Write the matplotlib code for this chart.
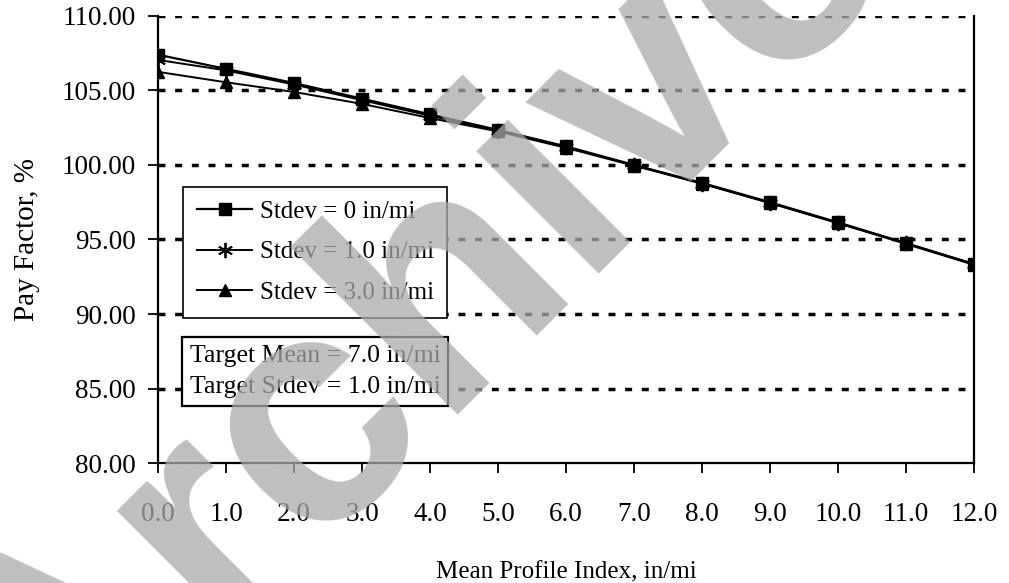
import matplotlib.pyplot as plt

# Значения по оси X (Mean Profile Index, in/mi)
mpi = [0, 1, 2, 3, 4, 5, 6, 7, 8, 9, 10, 11, 12]

# Pay Factor, % для трёх значений стандартного отклонения
pf_sd0 = [107.4, 106.45, 105.5, 104.45, 103.4, 102.35, 101.25, 100.0, 98.8, 97.5, 96.15, 94.75, 93.35]
pf_sd1 = [107.05, 106.35, 105.4, 104.35, 103.3, 102.3, 101.2, 100.0, 98.75, 97.45, 96.1, 94.75, 93.35]
pf_sd3 = [106.25, 105.55, 104.9, 104.1, 103.15, 102.25, 101.15, 99.95, 98.75, 97.45, 96.1, 94.7, 93.3]

series_labels = ["Stdev = 0 in/mi", "Stdev = 1.0 in/mi", "Stdev = 3.0 in/mi"]
y_ticks = [80, 85, 90, 95, 100, 105, 110]

plt.rcParams['font.family'] = ['Liberation Serif', 'DejaVu Serif']

fig = plt.figure(figsize=(10.09, 5.83), dpi=100)
ax = fig.add_axes([0.1566, 0.2058, 0.9653 - 0.1566, 0.9726 - 0.2058])

ax.plot(mpi, pf_sd0, color="black", linewidth=1.6, marker="s", markersize=9, label=series_labels[0])
ax.plot(mpi, pf_sd1, color="black", linewidth=1.4, marker=(6, 2, 0), markersize=11,
        markeredgewidth=1.3, label=series_labels[1])
ax.plot(mpi, pf_sd3, color="black", linewidth=1.4, marker="^", markersize=9, label=series_labels[2])

ax.set_xlim(0, 12)
ax.set_ylim(80, 110)
ax.set_xticks(mpi)
ax.set_xticklabels(["%.1f" % v for v in mpi])
ax.set_yticks(y_ticks)
ax.set_yticklabels(["%.2f" % v for v in y_ticks])
ax.tick_params(axis="both", labelsize=19.5, colors="black", direction="out", length=7, width=1.3)
ax.tick_params(axis="x", pad=21)
ax.tick_params(axis="y", pad=9)

# Пунктирная сетка по горизонтали
for yv in y_ticks[1:]:
    ax.axhline(yv, color="black", linestyle=(0, (2, 2.8)), linewidth=2.5, zorder=0)

ax.spines["top"].set_visible(False)
for s in ["left", "bottom", "right"]:
    ax.spines[s].set_linewidth(1.6)

ax.set_xlabel("Mean Profile Index, in/mi", fontsize=18)
ax.set_ylabel("Pay Factor, %", fontsize=21)
ax.xaxis.label.set_va("center")
ax.yaxis.label.set_va("center")
ax.xaxis.set_label_coords(0.5, -0.244)
ax.yaxis.set_label_coords(-0.16, 0.5)

leg = ax.legend(loc="upper left", bbox_to_anchor=(0.031, 0.618), fontsize=18, frameon=True,
                fancybox=False, framealpha=1, edgecolor="black", handlelength=2.2,
                handletextpad=0.3, borderpad=0.55, labelspacing=0.72, borderaxespad=0)
leg.get_frame().set_linewidth(1.2)

ax.text(0.039, 0.204, "Target Mean = 7.0 in/mi\nTarget Stdev = 1.0 in/mi", transform=ax.transAxes,
        fontsize=18.5, ha="left", va="center", linespacing=1.55,
        bbox=dict(boxstyle="square,pad=0.3", facecolor="white", edgecolor="black", linewidth=1.6))

# Водяной знак поверх графика
fig.text(0.4856, 0.5626, "Archived", fontsize=235, fontweight="bold", family="Liberation Sans",
         color="#aaaaaa", alpha=0.75, rotation=45, ha="center", va="center", zorder=10)

fig.savefig("out.png", dpi=100)
